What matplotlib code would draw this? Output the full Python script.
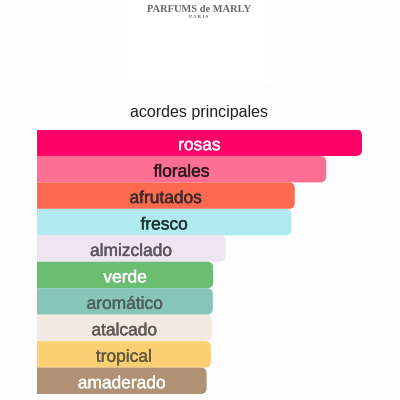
import matplotlib
matplotlib.use('Agg')
import matplotlib.pyplot as plt
from matplotlib.patches import FancyBboxPatch, Rectangle
import matplotlib.patheffects as pe

# datos del gráfico
acordes = ['rosas', 'florales', 'afrutados', 'fresco', 'almizclado',
           'verde', 'aromático', 'atalcado', 'tropical', 'amaderado']
valores = [100, 89, 79.3, 78.3, 58, 54.2, 54.1, 53.8, 53.5, 52.2]
colores = ['#ff0069', '#ff6e93', '#fd6a4f', '#b0eaef', '#efe4f1',
           '#6bbd72', '#86c6b7', '#f3eae1', '#fbd073', '#b09173']
colores_texto = ['#ffffff', '#2a1a1e', '#3b2a25', '#1f3335', '#5a575c',
                 '#ffffff', '#4f5f5b', '#5c5955', '#665a3e', '#ffffff']

fig = plt.figure(figsize=(4, 4), dpi=100, facecolor='#fdfdfd')

# logo
fig.patches.append(Rectangle((127 / 400, 1 - 84 / 400), 143 / 400, 84 / 400,
                             transform=fig.transFigure, facecolor='white',
                             edgecolor='none', zorder=0))
fig.text(199 / 400, 1 - 9 / 400, 'PARFUMS de MARLY', ha='center', va='center',
         family='Liberation Serif', fontsize=7.6, color='#6a6a6a', weight='bold')
fig.text(199 / 400, 1 - 17.5 / 400, 'P A R I S', ha='center', va='center',
         family='Liberation Serif', fontsize=3.6, color='#6a6a6a', weight='bold')

fig.text(199 / 400, 1 - 117 / 400, 'acordes principales', ha='center', va='baseline',
         family='Liberation Sans', fontsize=11.5, color='#222222')

# ejes: 37px -> 362px en x, 129.5px -> 394px en y
ax = fig.add_axes([37 / 400, 6 / 400, 325 / 400, 264.5 / 400])
ax.set_xlim(0, 100)
ax.set_ylim(len(acordes), 0)
ax.axis('off')

px_x = 100 / 325
px_y = 1 / 26.45
radio = 6 * px_x

for i, (nombre, v, c, ct) in enumerate(zip(acordes, valores, colores, colores_texto)):
    barra = FancyBboxPatch((-10, i), v + 10, 1,
                           boxstyle=f'round,pad=0,rounding_size={radio}',
                           mutation_aspect=px_y / px_x,
                           facecolor=c, edgecolor='none', clip_on=True)
    ax.add_patch(barra)
    barra.set_clip_box(ax.bbox)
    t = ax.text(v / 2, i + 0.78, nombre, ha='center', va='baseline',
                family='Liberation Sans', fontsize=12.5, color=ct)
    t.set_path_effects([pe.withStroke(linewidth=0.3, foreground=ct)])

fig.savefig('out.png', dpi=100, facecolor=fig.get_facecolor())
